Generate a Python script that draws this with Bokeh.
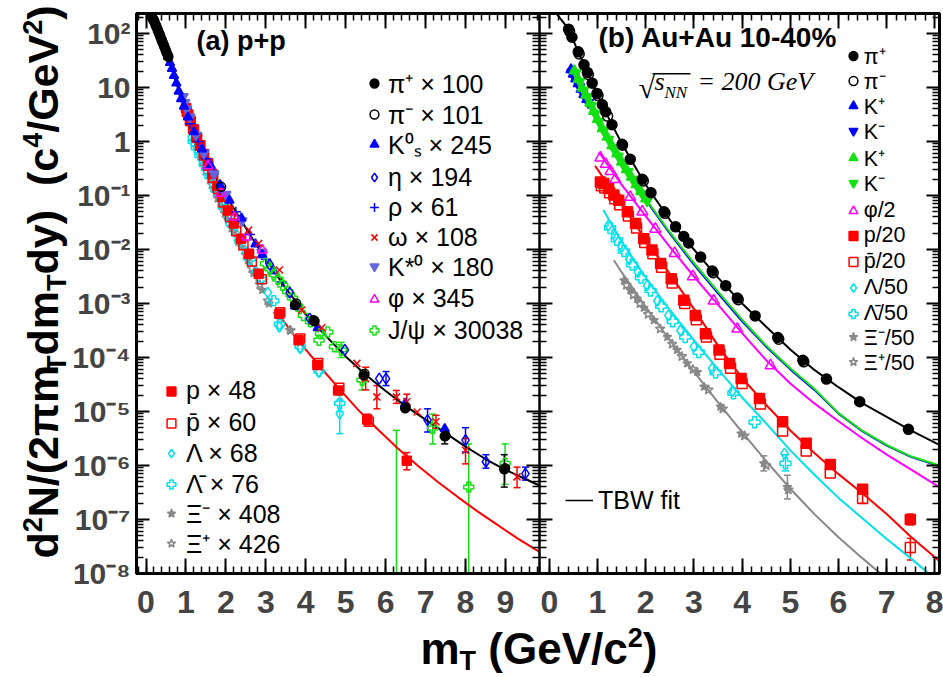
from math import pi
from bokeh.plotting import figure
from bokeh.models import (Range1d, LinearAxis, LogAxis, FixedTicker, CustomJSTickFormatter,
                          Label, Legend, LegendItem, Whisker, TeeHead, ColumnDataSource, BoxAnnotation)
from bokeh.embed import file_html
from bokeh.resources import INLINE

# ======================= DATA (x = mT in GeV/c^2, values = log10 of yield) =======================
# ---------- panel (a) p+p : mesons ----------
pip_a_x = [0.15, 0.18, 0.21, 0.24, 0.27, 0.30, 0.33, 0.36, 0.39, 0.42, 0.45, 0.48, 0.52, 0.56,
           3.73, 4.20, 5.45, 6.49, 7.48, 8.97]
pip_a_v = [2.30, 2.26, 2.22, 2.16, 2.11, 2.05, 2.00, 1.94, 1.88, 1.83, 1.77, 1.72, 1.64, 1.57,
           -3.03, -3.31, -4.33, -4.94, -5.46, -6.07]
pim_a_x = [0.16, 0.20, 0.25, 0.30, 0.35, 0.40, 0.45, 0.50, 0.55, 1.88, 3.76, 4.22, 5.47, 6.50, 7.50, 8.99]
pim_a_v = [2.29, 2.24, 2.15, 2.06, 1.97, 1.87, 1.78, 1.68, 1.59, -0.84, -3.00, -3.33, -4.30, -4.92, -5.45, -6.05]
k0s_a_x = [0.50, 0.55, 0.60, 0.65, 0.70, 0.76, 0.82, 0.88, 0.95, 1.05, 1.20, 1.40, 1.62, 1.85,
           2.09, 2.39, 2.74, 2.91, 3.20, 3.73, 4.30, 6.49, 7.48]
k0s_a_v = [1.69, 1.57, 1.46, 1.35, 1.22, 1.08, 0.93, 0.79, 0.65, 0.45, 0.18, -0.14, -0.45, -0.80,
           -1.09, -1.42, -1.90, -2.10, -2.40, -3.05, -3.45, -4.85, -5.32]
eta_a_x = [3.10, 3.60, 4.10, 4.98, 5.84, 6.01, 7.05, 8.00, 8.51, 9.50]
eta_a_v = [-2.28, -2.80, -3.28, -3.86, -4.39, -4.39, -5.16, -5.53, -5.93, -6.15]
rho_a_x = [1.10, 1.30, 1.50, 1.70, 1.95, 2.25, 2.60, 3.00, 3.40, 3.80]
rho_a_v = [0.33, 0.00, -0.32, -0.60, -0.95, -1.30, -1.72, -2.18, -2.60, -3.05]
omg_a_x = [2.57, 2.82, 3.34, 3.90, 4.40, 5.28, 5.50, 5.78, 6.27, 6.53, 6.79, 7.26, 8.00, 9.29]
omg_a_v = [-1.64, -1.89, -2.38, -3.12, -3.45, -4.11, -4.39, -4.73, -4.73, -4.82, -5.01, -5.19, -5.72, -6.21]
kst_a_x = [0.93, 0.97, 1.02, 1.10, 1.25, 1.45, 1.70, 2.00, 2.40, 2.90]
kst_a_v = [0.83, 0.72, 0.60, 0.45, 0.12, -0.22, -0.60, -0.98, -1.47, -2.05]
phi_a_x = [1.55, 1.88, 2.22, 2.52, 2.91, 3.77]
phi_a_v = [-0.45, -0.96, -1.40, -1.77, -2.01, -3.03]
jpsi_a_x = [2.99, 3.10, 3.20, 3.30, 3.42, 3.55, 3.67, 3.80, 3.94, 4.12, 4.33, 4.37, 4.55, 4.72,
            4.89, 5.41, 7.18, 8.08, 8.99]
jpsi_a_v = [-2.26, -2.36, -2.46, -2.55, -2.66, -2.78, -2.90, -3.05, -3.22, -3.34, -3.68, -3.56,
            -3.53, -3.80, -3.86, -4.42, -5.31, -6.40, -5.96]
# ---------- panel (a) p+p : baryons ----------
p_a_x = [1.00, 1.06, 1.12, 1.20, 1.28, 1.36, 1.45, 1.55, 1.66, 1.78, 1.90, 2.05, 2.20, 2.38,
         2.58, 2.82, 3.34, 3.82, 4.29, 4.81, 5.54, 6.53]
p_a_v = [0.62, 0.50, 0.38, 0.22, 0.07, -0.07, -0.23, -0.40, -0.60, -0.82, -1.03, -1.28, -1.52,
         -1.80, -2.08, -2.45, -3.19, -3.68, -4.14, -4.61, -5.15, -5.91]
pbar_a_x = [1.02, 1.10, 1.18, 1.26, 1.35, 1.45, 1.56, 1.68, 1.80, 1.94, 2.10, 2.26, 2.44, 2.65,
            2.90, 3.36, 3.86, 4.31, 4.84, 5.58]
pbar_a_v = [0.55, 0.38, 0.23, 0.08, -0.08, -0.26, -0.45, -0.67, -0.88, -1.13, -1.40, -1.66,
            -1.92, -2.22, -2.55, -3.16, -3.65, -4.10, -4.56, -5.19]
lam_a_x = [1.14, 1.22, 1.30, 1.40, 1.53, 1.68, 1.85, 2.05, 2.25, 2.50, 2.75, 3.05, 3.34, 3.86, 4.33, 4.85]
lam_a_v = [0.08, -0.05, -0.18, -0.33, -0.55, -0.80, -1.08, -1.40, -1.70, -2.05, -2.40, -2.80,
           -3.43, -3.83, -4.27, -5.04]
lbar_a_x = [1.18, 1.26, 1.35, 1.46, 1.60, 1.75, 1.93, 2.13, 2.35, 2.60, 2.88, 3.20, 3.34, 3.86, 4.33, 4.85]
lbar_a_v = [0.00, -0.12, -0.26, -0.43, -0.65, -0.90, -1.20, -1.52, -1.85, -2.18, -2.55, -2.95,
            -3.38, -3.80, -4.25, -4.85]
xim_a_x = [1.45, 1.60, 1.75, 1.90, 2.05, 2.20, 2.39, 2.55, 2.69, 2.91, 3.08, 3.35, 3.60]
xim_a_v = [-0.45, -0.70, -0.95, -1.20, -1.45, -1.68, -1.95, -2.20, -2.44, -2.75, -3.00, -3.25, -3.49]
xip_a_x = [1.50, 1.65, 1.80, 1.98, 2.15, 2.32, 2.50, 2.65, 2.85, 3.05, 3.30, 3.62]
xip_a_v = [-0.55, -0.80, -1.05, -1.33, -1.60, -1.85, -2.10, -2.35, -2.65, -2.95, -3.20, -3.50]
# fits panel (a)
fit_a_meson_x = [0.13, 0.30, 0.50, 0.75, 1.00, 1.25, 1.50, 1.75, 2.00, 2.25, 2.50, 2.75, 3.00, 3.50,
                 4.00, 4.50, 5.00, 5.50, 6.00, 6.50, 7.00, 7.50, 8.00, 8.50, 9.00, 9.50, 9.85]
fit_a_meson_v = [2.36, 2.05, 1.68, 1.10, 0.55, 0.08, -0.30, -0.67, -1.00, -1.30, -1.60, -1.90, -2.17,
                 -2.72, -3.20, -3.60, -3.98, -4.32, -4.62, -4.90, -5.15, -5.40, -5.65, -5.88, -6.08,
                 -6.25, -6.37]
fit_a_baryon_x = [3.30, 3.80, 4.30, 4.80, 5.30, 5.80, 6.30, 6.80, 7.30, 7.80, 8.30, 8.80, 9.30, 9.85]
fit_a_baryon_v = [-3.18, -3.68, -4.12, -4.55, -4.96, -5.33, -5.68, -6.00, -6.30, -6.58, -6.85, -7.10,
                  -7.35, -7.60]

# ---------- panel (b) Au+Au 10-40% ----------
pip_b_x = [0.40, 0.47, 0.60, 0.72, 0.79, 0.89, 0.99, 1.10, 1.17, 1.30, 1.51, 1.68, 1.93, 2.11, 2.38,
           2.62, 2.79, 2.89, 3.14, 3.38, 3.66, 3.90, 4.27, 4.74, 5.26, 5.75, 6.44, 7.45]
pip_b_v = [2.08, 1.93, 1.66, 1.42, 1.28, 1.08, 0.89, 0.68, 0.55, 0.31, -0.05, -0.33, -0.70, -0.95,
           -1.30, -1.58, -1.76, -1.88, -2.14, -2.40, -2.67, -2.90, -3.23, -3.63, -4.05, -4.40, -4.82, -5.33]
pim_b_x = [0.42, 0.62, 0.81, 1.01, 1.21, 1.52, 1.95, 2.40, 3.40, 3.92, 4.76, 5.28]
pim_b_v = [2.04, 1.62, 1.24, 0.85, 0.47, -0.07, -0.73, -1.33, -2.43, -2.93, -3.66, -4.08]
kp_b_blue_x = [0.45, 0.50, 0.55, 0.60, 0.66, 0.72, 0.78]
kp_b_blue_v = [1.33, 1.25, 1.16, 1.07, 0.97, 0.87, 0.78]
km_b_blue_x = [0.47, 0.52, 0.57, 0.63, 0.69, 0.75, 0.81]
km_b_blue_v = [1.28, 1.20, 1.11, 1.01, 0.91, 0.82, 0.72]
kp_b_green_x = [0.52, 0.60, 0.68, 0.76, 0.84, 0.92, 1.00, 1.10, 1.20, 1.30, 1.40, 1.50, 1.60, 1.70,
                1.80, 1.90, 2.00]
kp_b_green_v = [1.31, 1.15, 0.99, 0.86, 0.71, 0.56, 0.41, 0.24, 0.08, -0.08, -0.23, -0.38, -0.52,
                -0.66, -0.80, -0.93, -1.06]
km_b_green_x = [0.55, 0.63, 0.71, 0.79, 0.87, 0.95, 1.03, 1.13, 1.23, 1.33, 1.43, 1.53, 1.63, 1.73,
                1.83, 1.93, 2.03]
km_b_green_v = [1.27, 1.11, 0.95, 0.82, 0.67, 0.52, 0.37, 0.20, 0.04, -0.12, -0.27, -0.42, -0.56,
                -0.70, -0.84, -0.97, -1.10]
phi_b_x = [1.06, 1.17, 1.27, 1.37, 1.68, 1.93, 2.20, 2.60, 2.98, 3.41, 3.90, 4.59]
phi_b_v = [-0.30, -0.42, -0.55, -0.70, -1.03, -1.30, -1.62, -2.07, -2.50, -2.95, -3.47, -4.15]
p_b_x = [1.06, 1.13, 1.23, 1.34, 1.44, 1.62, 1.79, 1.96, 2.13, 2.31, 2.53, 2.79, 3.03, 3.24, 3.52,
         3.74, 3.98, 4.36, 4.84, 5.33, 5.83, 6.50, 7.49]
p_b_v = [-0.75, -0.78, -0.87, -0.99, -1.09, -1.30, -1.52, -1.80, -2.01, -2.26, -2.54, -2.94, -3.22,
         -3.56, -3.86, -4.11, -4.39, -4.76, -5.19, -5.59, -5.98, -6.44, -7.00]
pbar_b_x = [1.08, 1.15, 1.25, 1.36, 1.46, 1.64, 1.81, 1.98, 2.15, 2.33, 2.55, 2.81, 3.05, 3.26, 3.54,
            3.76, 4.00, 4.38, 4.84, 5.33, 5.83, 6.50, 7.49]
pbar_b_v = [-0.82, -0.86, -0.95, -1.06, -1.17, -1.38, -1.60, -1.87, -2.08, -2.33, -2.62, -3.00, -3.30,
            -3.62, -3.94, -4.20, -4.48, -4.86, -5.36, -5.73, -6.14, -6.61, -7.52]
lam_b_x = [1.23, 1.36, 1.50, 1.66, 1.84, 2.03, 2.24, 2.47, 2.72, 3.00, 3.38, 3.80, 4.88]
lam_b_v = [-1.55, -1.75, -1.95, -2.18, -2.42, -2.67, -2.95, -3.22, -3.50, -3.80, -4.20, -4.62, -5.78]
lbar_b_x = [1.26, 1.40, 1.55, 1.72, 1.90, 2.10, 2.32, 2.56, 2.82, 3.10, 3.45, 3.82, 4.26, 4.90]
lbar_b_v = [-1.60, -1.82, -2.03, -2.28, -2.52, -2.76, -3.05, -3.33, -3.62, -3.90, -4.28, -4.66, -5.20, -5.96]
xim_b_x = [1.55, 1.68, 1.82, 1.96, 2.17, 2.45, 2.65, 2.86, 3.07, 3.21, 3.55, 3.98, 4.45, 4.94]
xim_b_v = [-2.57, -2.75, -2.91, -3.08, -3.31, -3.62, -3.86, -4.11, -4.27, -4.54, -4.91, -5.41, -5.96, -6.40]
xip_b_x = [1.60, 1.74, 1.88, 2.05, 2.30, 2.55, 2.75, 2.98, 3.30, 3.60, 4.05, 4.50, 4.96]
xip_b_v = [-2.66, -2.84, -3.00, -3.20, -3.47, -3.75, -3.98, -4.22, -4.60, -4.95, -5.45, -6.00, -6.45]
# TBW fits panel (b)
fit_b_pi_x = [0.15, 0.40, 0.60, 0.80, 1.00, 1.25, 1.50, 1.75, 2.00, 2.50, 3.00, 3.50, 4.00, 4.50,
              5.00, 5.50, 6.00, 6.50, 7.00, 7.50, 8.09]
fit_b_pi_v = [2.37, 2.08, 1.66, 1.27, 0.87, 0.40, -0.03, -0.42, -0.80, -1.45, -2.00, -2.52, -3.00,
              -3.43, -3.85, -4.23, -4.55, -4.85, -5.10, -5.35, -5.62]
fit_b_k_x = [0.50, 0.75, 1.00, 1.25, 1.50, 1.75, 2.00, 2.50, 3.00, 3.50, 4.00, 4.50, 5.00, 5.50,
             6.00, 6.50, 7.00, 7.50, 8.09]
fit_b_kgreen_v = [1.35, 0.85, 0.40, 0.00, -0.38, -0.73, -1.06, -1.68, -2.25, -2.78, -3.30, -3.78,
                  -4.20, -4.58, -5.03, -5.36, -5.62, -5.83, -6.00]
fit_b_kblue_v = [1.33, 0.83, 0.38, -0.02, -0.40, -0.75, -1.08, -1.70, -2.28, -2.81, -3.33, -3.80,
                 -4.22, -4.60, -5.04, -5.37, -5.63, -5.84, -6.01]
fit_b_phi_x = [1.03, 1.50, 2.00, 2.50, 3.00, 3.50, 4.00, 4.50, 5.00, 5.50, 6.00, 6.50, 7.00, 7.50, 8.09]
fit_b_phi_v = [-0.20, -0.80, -1.38, -1.95, -2.50, -3.02, -3.55, -4.05, -4.48, -4.85, -5.18, -5.50,
               -5.80, -6.07, -6.40]
fit_b_p_x = [0.95, 1.25, 1.50, 2.00, 2.50, 3.00, 3.50, 4.00, 4.50, 5.00, 5.50, 6.00, 6.50, 7.00, 7.50, 8.09]
fit_b_p_v = [-0.45, -0.85, -1.17, -1.82, -2.45, -3.10, -3.78, -4.38, -4.88, -5.35, -5.77, -6.16,
             -6.52, -6.90, -7.32, -7.77]
fit_b_lam_x = [1.12, 1.50, 2.00, 2.50, 3.00, 3.50, 4.00, 4.50, 5.00, 5.50, 6.00, 6.50, 7.00, 7.50, 7.87]
fit_b_lam_v = [-1.27, -1.85, -2.52, -3.12, -3.68, -4.22, -4.74, -5.22, -5.72, -6.17, -6.60, -6.98,
               -7.36, -7.72, -8.00]
fit_b_xi_x = [1.34, 1.50, 2.00, 2.50, 3.00, 3.50, 4.00, 4.50, 5.00, 5.50, 6.00, 6.50, 6.87]
fit_b_xi_v = [-2.20, -2.42, -3.06, -3.68, -4.26, -4.83, -5.38, -5.92, -6.43, -6.90, -7.33, -7.72, -8.00]

# error bars (x, low, high) in log10
err_jpsi_a = ([4.89, 5.41, 7.18, 8.99], [-4.00, -4.60, -5.60, -6.35], [-3.72, -4.25, -5.05, -5.60])
err_jpsi_a_open = ([6.27, 8.08], [-8.0, -8.0], [-5.35, -5.60])
err_omg_a = ([5.50, 5.78, 6.27, 6.53, 7.26, 8.00, 9.29], [-4.60, -4.95, -4.85, -4.97, -5.31, -5.97, -6.41],
             [-4.18, -4.52, -4.61, -4.68, -5.07, -5.50, -6.03])
err_eta_a = ([6.01, 7.05, 8.00, 8.51, 9.50], [-4.52, -5.38, -5.75, -6.05, -6.27], [-4.26, -4.95, -5.30, -5.80, -6.03])
err_pi_a = ([7.48, 8.97], [-5.60, -6.40], [-5.33, -5.80])
err_p_a = ([5.54, 6.53], [-5.25, -6.08], [-5.05, -5.76])
err_lam_a = ([4.85], [-5.41], [-4.79])
err_lbar_a = ([4.85], [-5.00], [-4.70])
err_p_b = ([7.49], [-7.10], [-6.90])
err_pbar_b = ([6.50, 7.49], [-6.70, -7.75], [-6.52, -7.35])
err_xi_b = ([4.45, 4.94], [-6.10, -6.62], [-5.82, -6.18])
err_lbar_b = ([4.90], [-6.10], [-5.80])

# axis ticks
y_major = [1e-8, 1e-7, 1e-6, 1e-5, 1e-4, 1e-3, 1e-2, 1e-1, 1.0, 10.0, 100.0]
xa_major = [0, 1, 2, 3, 4, 5, 6, 7, 8, 9]
xb_major = [0, 1, 2, 3, 4, 5, 6, 7, 8]

# ======================= GEOMETRY =======================
CW, CH = 943, 677
A0_PX, A_SCALE = 145.5, 39.94      # panel a: x=0 at 145.5 px, 39.94 px per GeV
B0_PX, B_SCALE = 548.8, 48.2       # panel b
Y_BOT_PX, DEC = 573.0, 54.0        # 1e-8 at 573 px, 54 px per decade
XA = ((0 - A0_PX) / A_SCALE, (CW - A0_PX) / A_SCALE)
XB = ((0 - B0_PX) / B_SCALE, (CW - B0_PX) / B_SCALE)
YR = (10 ** (-8 - (CH - Y_BOT_PX) / DEC), 10 ** (-8 + Y_BOT_PX / DEC))
A_LEFT = (136 - A0_PX) / A_SCALE
A_RIGHT = (539 - A0_PX) / A_SCALE
B_RIGHT = (939 - B0_PX) / B_SCALE
B_RIGHT_A = (939 - A0_PX) / A_SCALE
Y_LOW = 1e-8
Y_TOP = 10 ** (-8 + (Y_BOT_PX - 13) / DEC)

p = figure(width=CW, height=CH, frame_width=CW, frame_height=CH, min_border=0,
           x_range=Range1d(*XA), y_range=Range1d(*YR), y_axis_type="log",
           x_axis_location=None, y_axis_location=None,
           output_backend="svg", toolbar_location=None)
p.title.visible = False
p.extra_x_ranges = {"b": Range1d(*XB)}
p.xgrid.visible = False
p.ygrid.visible = False
p.outline_line_color = None
p.background_fill_color = "white"
p.border_fill_color = "white"

ratio = (XA[1] - XA[0]) / (XB[1] - XB[0])
def b_to_a(t):
    return XA[0] + (t - XB[0]) * ratio

y_minor = [m * t for t in y_major for m in range(2, 10) if m * t < Y_TOP]
xa_minor = [round(-0.2 + 0.2 * i, 1) for i in range(51)]
xb_minor = [round(-0.2 + 0.2 * i, 1) for i in range(41)]
x_major_all = list(xa_major) + [b_to_a(t) for t in xb_major]
x_minor_all = list(xa_minor) + [b_to_a(t) for t in xb_minor]

yfmt = CustomJSTickFormatter(code="""
const e = Math.round(Math.log10(tick));
if (e === 0) return "1";
if (e === 1) return "10";
const s = {"-": "⁻", "0": "⁰", "1": "¹", "2": "²", "3": "³", "4": "⁴", "5": "⁵", "6": "⁶", "7": "⁷", "8": "⁸", "9": "⁹"};
return "10" + String(e).split("").map((c) => s[c]).join("");
""")
xfmt = CustomJSTickFormatter(args=dict(edge=A_RIGHT, a0=XA[0], b0=XB[0], ratio=ratio), code="""
if (tick < edge) return String(Math.round(tick));
return String(Math.round(b0 + (tick - a0) / ratio));
""")
blank = CustomJSTickFormatter(code='return "";')

def style_axis(ax, tin, tout, mtin, mtout):
    ax.major_tick_in = tin
    ax.major_tick_out = tout
    ax.minor_tick_in = mtin
    ax.minor_tick_out = mtout
    ax.axis_line_color = None
    ax.major_tick_line_width = 2
    ax.minor_tick_line_width = 1.5
    ax.major_tick_line_color = "black"
    ax.minor_tick_line_color = "black"

yt = FixedTicker(ticks=y_major, minor_ticks=y_minor)
xt = FixedTicker(ticks=x_major_all, minor_ticks=x_minor_all)

ay = LogAxis(ticker=yt, formatter=yfmt, fixed_location=A_LEFT)
style_axis(ay, 13, 0, 7, 0)
ay.major_label_text_font = "Liberation Sans"
ay.major_label_text_font_style = "bold"
ay.major_label_text_font_size = "30px"
ay.major_label_standoff = 6
p.add_layout(ay, "left")
amid = LogAxis(ticker=yt, formatter=blank, fixed_location=A_RIGHT, major_label_text_color=None)
style_axis(amid, 13, 13, 7, 7)
p.add_layout(amid, "left")
aright = LogAxis(ticker=yt, formatter=blank, x_range_name="b", fixed_location=B_RIGHT,
                 major_label_text_color=None)
style_axis(aright, 13, 0, 7, 0)
p.add_layout(aright, "right")
ab = LinearAxis(ticker=xt, formatter=xfmt, fixed_location=Y_LOW)
style_axis(ab, 15, 0, 7, 0)
ab.major_label_text_font = "Liberation Sans"
ab.major_label_text_font_style = "bold"
ab.major_label_text_font_size = "32px"
ab.major_label_standoff = 17
p.add_layout(ab, "below")
at = LinearAxis(ticker=xt, formatter=blank, fixed_location=Y_TOP, major_label_text_color=None)
style_axis(at, 15, 0, 7, 0)
p.add_layout(at, "above")

# panel frames
p.add_layout(BoxAnnotation(left=A_LEFT, right=B_RIGHT_A, bottom=Y_LOW, top=Y_TOP,
                           fill_alpha=0, line_color="black", line_alpha=1.0, line_width=3))
p.add_layout(BoxAnnotation(left=A_LEFT, right=A_RIGHT, bottom=Y_LOW, top=Y_TOP,
                           fill_alpha=0, line_color="black", line_alpha=1.0, line_width=2.5))

def lin(v):
    return [10.0 ** t for t in v]

def pts(xs, vs, marker, color, fill, size=9, rng="default", lw=1.5):
    src = ColumnDataSource(dict(x=xs, y=lin(vs)))
    return p.scatter(x="x", y="y", source=src, marker=marker, size=size, line_color=color,
                     fill_color=(color if fill else None), line_width=lw, x_range_name=rng)

def curve(xs, vs, color, rng="default", lw=2):
    return p.line(x=xs, y=lin(vs), line_color=color, line_width=lw, x_range_name=rng)

def errs(e, color, rng="default", lower_cap=True):
    xs, lo, hi = e
    src = ColumnDataSource(dict(x=xs, lo=lin(lo), hi=lin(hi)))
    w = Whisker(source=src, base="x", lower="lo", upper="hi", dimension="height",
                line_color=color, line_width=1.5, x_range_name=rng,
                upper_head=TeeHead(size=7, line_color=color, line_width=1.5),
                lower_head=(TeeHead(size=7, line_color=color, line_width=1.5) if lower_cap else None))
    p.add_layout(w)

BLACK, BLUE, KST, RED, GREEN = "black", "#0000ff", "#6464dc", "#ff0000", "#14e014"
MAG, CYAN, GRAY = "#ff00ff", "#00e0ee", "#888888"

# ---- panel (a) ----
curve(fit_a_meson_x, fit_a_meson_v, BLACK)
curve(fit_a_baryon_x, fit_a_baryon_v, RED)
errs(err_jpsi_a, GREEN); errs(err_jpsi_a_open, GREEN, lower_cap=False)
errs(err_omg_a, RED); errs(err_eta_a, BLUE); errs(err_pi_a, BLACK)
errs(err_p_a, RED); errs(err_lam_a, CYAN); errs(err_lbar_a, CYAN)
r_xim_a = pts(xim_a_x, xim_a_v, "star", GRAY, True, 9)
r_xip_a = pts(xip_a_x, xip_a_v, "star", GRAY, False, 10)
r_lam_a = pts(lam_a_x, lam_a_v, "diamond", CYAN, False, 11)
r_lbar_a = pts(lbar_a_x, lbar_a_v, "plus", CYAN, False, 10)
r_pbar_a = pts(pbar_a_x, pbar_a_v, "square", RED, False, 9)
r_p_a = pts(p_a_x, p_a_v, "square", RED, True, 9)
r_rho_a = pts(rho_a_x, rho_a_v, "cross", BLUE, False, 10)
r_kst_a = pts(kst_a_x, kst_a_v, "inverted_triangle", KST, True, 10)
r_k0s_a = pts(k0s_a_x, k0s_a_v, "triangle", BLUE, True, 9)
r_phi_a = pts(phi_a_x, phi_a_v, "triangle", MAG, False, 10)
r_jpsi_a = pts(jpsi_a_x, jpsi_a_v, "plus", GREEN, False, 10)
r_eta_a = pts(eta_a_x, eta_a_v, "diamond", BLUE, False, 11)
r_omg_a = pts(omg_a_x, omg_a_v, "x", RED, False, 10)
r_pim_a = pts(pim_a_x, pim_a_v, "circle", BLACK, False, 9)
r_pip_a = pts(pip_a_x, pip_a_v, "circle", BLACK, True, 9)

# ---- panel (b) ----
curve(fit_b_xi_x, fit_b_xi_v, GRAY, "b")
curve(fit_b_lam_x, fit_b_lam_v, CYAN, "b")
curve(fit_b_p_x, fit_b_p_v, RED, "b")
curve(fit_b_phi_x, fit_b_phi_v, MAG, "b")
curve(fit_b_k_x, fit_b_kblue_v, BLUE, "b")
curve(fit_b_k_x, fit_b_kgreen_v, GREEN, "b")
curve(fit_b_pi_x, fit_b_pi_v, BLACK, "b")
errs(err_p_b, RED, "b"); errs(err_pbar_b, RED, "b"); errs(err_xi_b, GRAY, "b"); errs(err_lbar_b, CYAN, "b")
r_xip_b = pts(xip_b_x, xip_b_v, "star", GRAY, False, 10, "b")
r_xim_b = pts(xim_b_x, xim_b_v, "star", GRAY, True, 9, "b")
r_lbar_b = pts(lbar_b_x, lbar_b_v, "plus", CYAN, False, 11, "b")
r_lam_b = pts(lam_b_x, lam_b_v, "diamond", CYAN, False, 11, "b")
r_pbar_b = pts(pbar_b_x, pbar_b_v, "square", RED, False, 10, "b")
r_p_b = pts(p_b_x, p_b_v, "square", RED, True, 10, "b")
r_phi_b = pts(phi_b_x, phi_b_v, "triangle", MAG, False, 11, "b")
r_kp_bb = pts(kp_b_blue_x, kp_b_blue_v, "triangle", BLUE, True, 10, "b")
r_km_bb = pts(km_b_blue_x, km_b_blue_v, "inverted_triangle", BLUE, True, 10, "b")
r_kp_bg = pts(kp_b_green_x, kp_b_green_v, "triangle", GREEN, True, 10, "b")
r_km_bg = pts(km_b_green_x, km_b_green_v, "inverted_triangle", GREEN, True, 10, "b")
r_pim_b = pts(pim_b_x, pim_b_v, "circle", BLACK, False, 10, "b")
r_pip_b = pts(pip_b_x, pip_b_v, "circle", BLACK, True, 10, "b")
r_tbw = p.line(x=[fit_b_pi_x[-2]], y=lin([fit_b_pi_v[-2]]), line_color=BLACK, line_width=1.5,
               x_range_name="b")

# ---- legends: one entry each, placed at the reference's rows (page px) ----
def entry(text, r, mx, cy, font_px, standoff, gw=22, H=26):
    lg = Legend(items=[LegendItem(label=text, renderers=[r])],
                location=(mx - gw / 2, CH - (cy + H / 2)),
                orientation="vertical", border_line_color=None, background_fill_alpha=0,
                padding=0, margin=0, spacing=0, label_height=H, glyph_height=H,
                glyph_width=gw, label_standoff=standoff,
                label_text_font="Liberation Sans", label_text_font_size=f"{font_px}px",
                label_text_color="black")
    p.add_layout(lg)

leg_a_top = [("π⁺ × 100", r_pip_a), ("π⁻ × 101", r_pim_a), ("K⁰ₛ × 245", r_k0s_a), ("η × 194", r_eta_a),
             ("ρ × 61", r_rho_a), ("ω × 108", r_omg_a), ("K*⁰ × 180", r_kst_a), ("φ × 345", r_phi_a),
             ("J/ψ × 30038", r_jpsi_a)]
rows_a_top = [85, 115.5, 146, 177, 207, 237, 268, 298.5, 330]
for (t, r), cy in zip(leg_a_top, rows_a_top):
    entry(t, r, 374, cy, 25, 3, H=30)
leg_a_bot = [("p × 48", r_p_a), ("p̄ × 60", r_pbar_a), ("Λ × 68", r_lam_a), ("Λ̄ × 76", r_lbar_a),
             ("Ξ⁻ × 408", r_xim_a), ("Ξ⁺ × 426", r_xip_a)]
rows_a_bot = [390.7, 422.7, 453.3, 484.3, 515, 545]
for (t, r), cy in zip(leg_a_bot, rows_a_bot):
    entry(t, r, 171, cy, 25, 4, H=30)
leg_b = [("π⁺", r_pip_b), ("π⁻", r_pim_b), ("K⁺", r_kp_bb), ("K⁻", r_km_bb), ("K⁺", r_kp_bg),
         ("K⁻", r_km_bg), ("φ/2", r_phi_b), ("p/20", r_p_b), ("p̄/20", r_pbar_b), ("Λ/50", r_lam_b),
         ("Λ̄/50", r_lbar_b), ("Ξ⁻/50", r_xim_b), ("Ξ⁺/50", r_xip_b)]
rows_b = [57, 82, 107, 132, 159, 184, 210, 235, 261, 287, 313, 338, 363]
for (t, r), cy in zip(leg_b, rows_b):
    entry(t, r, 852.7, cy, 21.5, 0, H=25)
entry("TBW fit", r_tbw, 579, 500, 25, 5, gw=28, H=30)

# ---- texts: positions are page px of the text baseline; anchored at the line's middle ----
MID = {"Liberation Sans": 0.3465, "Liberation Serif": 0.3375}

def lab(text, cx, cy, size, font="Liberation Sans", style="bold", rotated=False):
    k = MID[font] * size
    if rotated:
        x, y, ang = cx - k, CH - cy, pi / 2
    else:
        x, y, ang = cx, CH - (cy - k), 0.0
    p.add_layout(Label(x=x, y=y, x_units="screen", y_units="screen", text=text,
                       text_font=font, text_font_style=style, text_font_size=f"{size}px",
                       text_color="black", angle=ang, text_align="left",
                       text_baseline="middle"))

lab("(a) p+p", 196, 50, 27)
lab("(b) Au+Au 10-40%", 598, 47, 28)
lab("√", 638, 97, 30, font="Liberation Serif", style="normal")
lab("s", 654, 90, 26, font="Liberation Serif", style="italic")
lab("NN", 664, 98, 17, font="Liberation Serif", style="italic")
lab("= 200 GeV", 697, 90, 26, font="Liberation Serif", style="italic")
p.add_layout(BoxAnnotation(left=652, right=690, bottom=CH - 74, top=CH - 72.5,
                           left_units="screen", right_units="screen", bottom_units="screen",
                           top_units="screen", fill_color="black", fill_alpha=1.0,
                           line_color=None))

NB = "\u00a0"
W = {"d": .611, "N": .722, "/": .278, "(": .333, ")": .333, "2": .556, "4": .556, "π": .60,
     "m": .889, "T": .611, "y": .556, NB: .278, "c": .556, "G": .778, "e": .556, "V": .667}

def adv(text, size):
    return sum(W.get(ch, .556) for ch in text) * size

# y title (rotated), with sub/superscript pieces
BIG, SMALL = 43, 27
ytitle = [("d", 0), ("2", 1), ("N/(2πm", 0), ("T", -1), ("dm", 0), ("T", -1),
          ("dy)" + NB + NB + "(c", 0), ("4", 1), ("/GeV", 0), ("2", 1), (")", 0)]
base_x, pos = 57, 558
for txt, sh in ytitle:
    sz = BIG if sh == 0 else SMALL
    off = {0: 0, 1: -16, -1: 9}[sh]
    lab(txt, base_x + off, pos, sz, rotated=True)
    pos -= adv(txt, sz)

# x title
xtitle = [("m", 0), ("T", -1), (NB + "(GeV/c", 0), ("2", 1), (")", 0)]
pos, base_y = 420, 663
for txt, sh in xtitle:
    sz = 44 if sh == 0 else SMALL
    off = {0: 0, 1: -17, -1: 7}[sh]
    lab(txt, pos, base_y + off, sz)
    pos += adv(txt, sz)

open("out.html", "w", encoding="utf-8").write(file_html(p, INLINE))
